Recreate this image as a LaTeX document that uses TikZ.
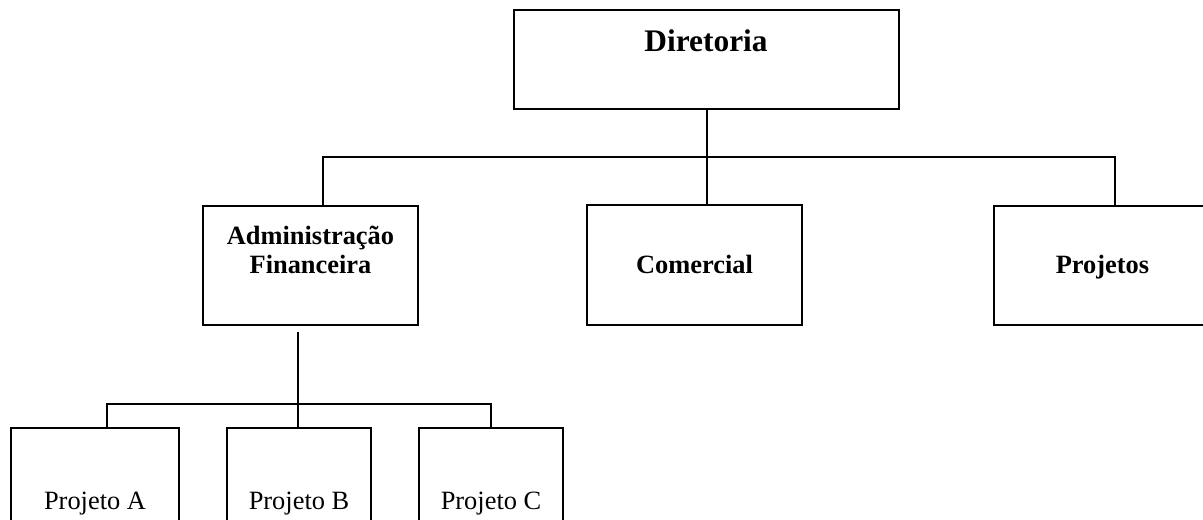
\documentclass[tikz,border=0pt]{standalone}
\usepackage{fontspec}
\setmainfont{Liberation Serif}
\usepackage{tikz}
\usetikzlibrary{positioning}
\tikzset{
  org chart/.style={x=0.5pt, y=-0.5pt, line cap=butt, line join=miter},
  org box/.style={draw=black, line width=1pt, fill=white, inner sep=0pt},
  org link/.style={draw=black, line width=1pt},
  org title/.style={font=\fontsize{15.7}{18}\selectfont\bfseries, inner sep=0pt},
  org name/.style={font=\fontsize{13.2}{14.5}\selectfont\bfseries, inner sep=0pt, align=center},
  org unit/.style={font=\fontsize{13.2}{14.5}\selectfont, inner sep=0pt}
}
\begin{document}
\begin{tikzpicture}[org chart]
\useasboundingbox (0,0) rectangle (1203,519);
% boxes
\node[org box, minimum width=192.5pt, minimum height=49.5pt] (dir) at (706.5,59.5) {};
\node[org box, minimum width=107.5pt, minimum height=59.5pt] (adm) at (310.5,265.5) {};
\node[org box, minimum width=107.5pt, minimum height=60pt] (com) at (694.5,265) {};
\node[org box, minimum width=108.5pt, minimum height=59.5pt] (proj) at (1102.5,265.5) {};
\node[org box, minimum width=84pt, minimum height=60pt] (pa) at (95,488) {};
\node[org box, minimum width=72pt, minimum height=60pt] (pb) at (299,488) {};
\node[org box, minimum width=72pt, minimum height=60pt] (pc) at (491,488) {};
% texts
\node[org title, anchor=base] (dirname) at (706,52) {Diretoria};
\node[org name, anchor=north] (admname) at (310.5,226) {Administração\\Financeira};
\node[org name, anchor=base] (comname) at (694.5,273) {Comercial};
\node[org name, anchor=base] (projname) at (1102.5,273) {Projetos};
\node[org unit, anchor=base] (paname) at (95,509) {Projeto A};
\node[org unit, anchor=base] (pbname) at (299,509) {Projeto B};
\node[org unit, anchor=base] (pcname) at (491,509) {Projeto C};
% links
\coordinate (busL) at (323,157);
\coordinate (busR) at (1115,157);
\coordinate (admdown) at (298,332);
\coordinate (subL) at (107,403.5);
\coordinate (subR) at (491,403.5);
\draw[org link] (dir.south) -- (dir.south |- com.north);
\draw[org link] (busL |- adm.north) -- (busL) -- (busR) -- (busR |- proj.north);
\draw[org link] (admdown) -- (admdown |- pb.north);
\draw[org link] (subL |- pa.north) -- (subL) -- (subR) -- (subR |- pc.north);
\end{tikzpicture}
\end{document}
